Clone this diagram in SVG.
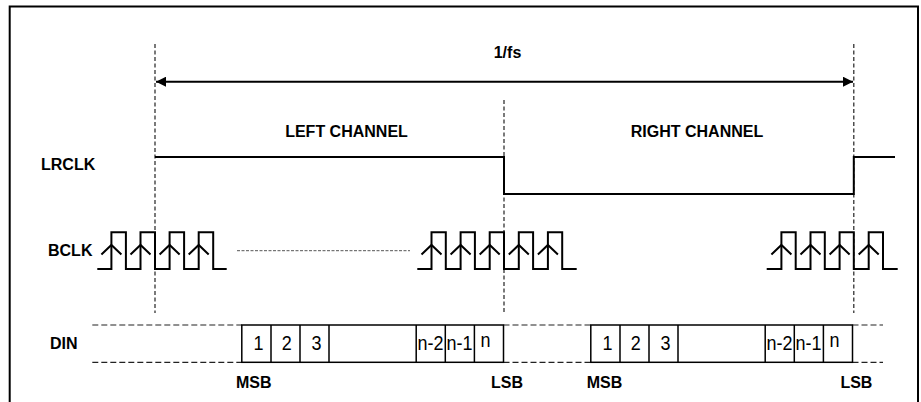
<svg xmlns="http://www.w3.org/2000/svg" width="921" height="402" viewBox="0 0 921 402">
<defs>
<style>
.lbl{font-family:"Liberation Sans",Arial,sans-serif;font-weight:bold;font-size:16px;fill:#000}
.bit{font-family:"Liberation Sans",Arial,sans-serif;font-size:18px;fill:#000;text-anchor:middle}
.sig{fill:none;stroke:#000;stroke-width:2}
.box{fill:none;stroke:#000;stroke-width:1.5}
.vdash{fill:none;stroke:#222;stroke-width:1.2;stroke-dasharray:4 2.5}
.hdash{fill:none;stroke:#222;stroke-width:1.2;stroke-dasharray:6 3}
.dot{fill:none;stroke:#555;stroke-width:1;stroke-dasharray:3 1.5}
</style>
<marker id="ah" viewBox="0 0 10 10" refX="10" refY="5" markerWidth="10" markerHeight="10" markerUnits="userSpaceOnUse" orient="auto-start-reverse">
<path d="M0,0 L10,5 L0,10 Z" fill="#000"/>
</marker>
</defs>
<rect width="921" height="402" fill="#fff"/>
<path d="M9.7,402 V6.5 H918 V402" fill="none" stroke="#000" stroke-width="2"/>

<g id="connectors">
<line class="vdash" x1="155" y1="44" x2="155" y2="313"/>
<line class="vdash" x1="504" y1="100" x2="504" y2="312"/>
<line class="vdash" x1="853.8" y1="44" x2="853.8" y2="313"/>
<line x1="156" y1="81.7" x2="853" y2="81.7" stroke="#000" stroke-width="2" marker-start="url(#ah)" marker-end="url(#ah)"/>
</g>

<g id="period-label">
<text class="lbl" x="507.5" y="58" text-anchor="middle">1/fs</text>
</g>
<g id="left-channel-label">
<text class="lbl" x="346.5" y="136.5" text-anchor="middle" font-size="16.5">LEFT CHANNEL</text>
</g>
<g id="right-channel-label">
<text class="lbl" x="697" y="136.5" text-anchor="middle" font-size="16.5">RIGHT CHANNEL</text>
</g>

<g id="lrclk">
<text class="lbl" x="41" y="170" font-size="16.5">LRCLK</text>
<path class="sig" d="M155,157 H504 V194 H853.8 V157 H895"/>
</g>

<g id="bclk">
<text class="lbl" x="48" y="256">BCLK</text>
<path class="sig" d="M97.3,269 H111.4 V232.3 H125.9 V269 H140.5 V232.3 H155 V269 H169.6 V232.3 H184.1 V269 H198.7 V232.3 H213.2 V269 H226.7"/>
<path class="sig" d="M101.4,254.5 L111.4,245 L121.4,254.5 M130.5,254.5 L140.5,245 L150.5,254.5 M159.6,254.5 L169.6,245 L179.6,254.5 M188.7,254.5 L198.7,245 L208.7,254.5"/>
<line class="dot" x1="237" y1="250.7" x2="410" y2="250.7"/>
<path class="sig" d="M417.3,269 H431.5 V232.3 H445.8 V269 H460.6 V232.3 H474.9 V269 H489.7 V232.3 H504 V269 H518.8 V232.3 H533.1 V269 H547.9 V232.3 H562.2 V269 H576.7"/>
<path class="sig" d="M421.5,254.5 L431.5,245 L441.5,254.5 M450.6,254.5 L460.6,245 L470.6,254.5 M479.7,254.5 L489.7,245 L499.7,254.5 M508.8,254.5 L518.8,245 L528.8,254.5 M537.9,254.5 L547.9,245 L557.9,254.5"/>
<path class="sig" d="M766.7,269 H781.4 V232.3 H795.7 V269 H810.5 V232.3 H824.8 V269 H839.6 V232.3 H853.8 V269 H868.7 V232.3 H883 V269 H897.7"/>
<path class="sig" d="M771.4,254.5 L781.4,245 L791.4,254.5 M800.5,254.5 L810.5,245 L820.5,254.5 M829.6,254.5 L839.6,245 L849.6,254.5 M858.7,254.5 L868.7,245 L878.7,254.5"/>
</g>

<g id="din">
<text class="lbl" x="50" y="348.5">DIN</text>
<line class="hdash" x1="92.3" y1="325" x2="241.8" y2="325"/>
<line class="hdash" x1="92.3" y1="362.3" x2="241.8" y2="362.3"/>
<line class="hdash" x1="503.5" y1="325" x2="590.8" y2="325"/>
<line class="hdash" x1="503.5" y1="362.3" x2="590.8" y2="362.3"/>
<line class="hdash" x1="852.5" y1="325" x2="883" y2="325"/>
<line class="hdash" x1="852.5" y1="362.3" x2="883" y2="362.3"/>
</g>

<g id="left-word">
<rect class="box" x="241.8" y="325" width="261.7" height="37.3"/>
<path class="box" d="M271,325 V362.3 M300,325 V362.3 M329,325 V362.3 M416.2,325 V362.3 M445.3,325 V362.3 M474.4,325 V362.3"/>
<text class="bit" transform="translate(258.5,350) scale(1,1.12)">1</text>
<text class="bit" transform="translate(286.7,350) scale(1,1.12)">2</text>
<text class="bit" transform="translate(316.5,350) scale(1,1.12)">3</text>
<text class="bit" transform="translate(430.5,350) scale(1,1.12)">n-2</text>
<text class="bit" transform="translate(459.5,350) scale(1,1.12)">n-1</text>
<text class="bit" transform="translate(485.5,347.3) scale(1,1.12)">n</text>
<text class="lbl" x="253.7" y="388" text-anchor="middle">MSB</text>
<text class="lbl" x="507" y="388" text-anchor="middle">LSB</text>
</g>

<g id="right-word">
<rect class="box" x="590.8" y="325" width="261.7" height="37.3"/>
<path class="box" d="M620,325 V362.3 M649,325 V362.3 M678,325 V362.3 M765.2,325 V362.3 M794.3,325 V362.3 M823.4,325 V362.3"/>
<text class="bit" transform="translate(607.5,350) scale(1,1.12)">1</text>
<text class="bit" transform="translate(635.7,350) scale(1,1.12)">2</text>
<text class="bit" transform="translate(665.5,350) scale(1,1.12)">3</text>
<text class="bit" transform="translate(779.5,350) scale(1,1.12)">n-2</text>
<text class="bit" transform="translate(808.5,350) scale(1,1.12)">n-1</text>
<text class="bit" transform="translate(834.5,347.3) scale(1,1.12)">n</text>
<text class="lbl" x="604.5" y="388" text-anchor="middle">MSB</text>
<text class="lbl" x="856.4" y="388" text-anchor="middle">LSB</text>
</g>
</svg>
